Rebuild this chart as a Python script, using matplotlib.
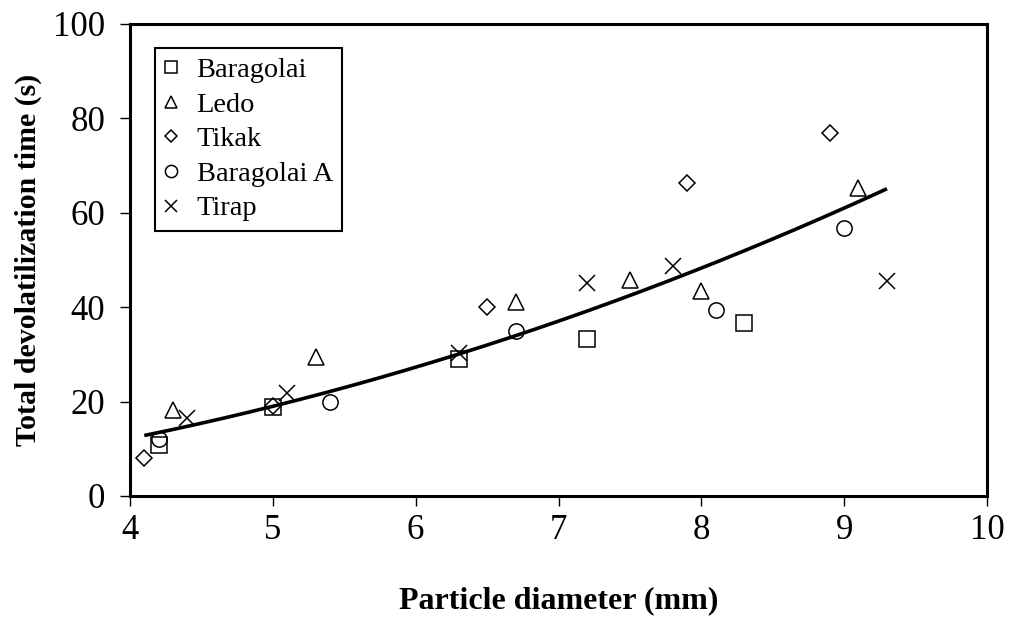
import numpy as np
import matplotlib
matplotlib.use("Agg")
import matplotlib.pyplot as plt

plt.rcParams['font.family'] = ['Liberation Serif', 'DejaVu Serif']

# Data
baragolai_x = [4.2, 5.0, 6.3, 7.2, 8.3]
baragolai_y = [10.8, 18.8, 29.0, 33.2, 36.7]
ledo_x = [4.3, 5.3, 6.7, 7.5, 8.0, 9.1]
ledo_y = [18.2, 29.4, 41.2, 45.8, 43.5, 65.2]
tikak_x = [4.1, 5.0, 6.5, 7.9, 8.9]
tikak_y = [8.0, 19.0, 40.0, 66.4, 76.9]
baragolaiA_x = [4.2, 5.4, 6.7, 8.1, 9.0]
baragolaiA_y = [12.0, 20.0, 35.0, 39.4, 56.7]
tirap_x = [4.4, 5.1, 6.3, 7.2, 7.8, 9.3]
tirap_y = [16.5, 21.8, 30.2, 45.1, 48.7, 45.6]

# Power-law trend line y = a * x^b
trend_a = 0.78
trend_b = 1.984
trend_x_range = [4.1, 9.3]

series = [
    ("Baragolai", baragolai_x, baragolai_y, 's', 11),
    ("Ledo", ledo_x, ledo_y, '^', 11),
    ("Tikak", tikak_x, tikak_y, 'D', 8),
    ("Baragolai A", baragolaiA_x, baragolaiA_y, 'o', 11),
    ("Tirap", tirap_x, tirap_y, 'x', 11),
]

fig = plt.figure(figsize=(10.12, 6.23), dpi=100)
ax = fig.add_axes([130/1012, 1-496/623, (987-130)/1012, (496-24)/623])

for name, xs, ys, m, ms in series:
    if m == 'x':
        ax.plot(xs, ys, linestyle='none', marker=m, markersize=ms,
                color='black', markeredgewidth=1.1, label=name)
    else:
        ax.plot(xs, ys, linestyle='none', marker=m, markersize=ms,
                markerfacecolor='none', markeredgecolor='black',
                markeredgewidth=1.1, label=name)

tx = np.linspace(trend_x_range[0], trend_x_range[1], 200)
ax.plot(tx, trend_a * tx ** trend_b, color='black', linewidth=2.6,
        solid_capstyle='butt')

ax.set_xlim(4, 10)
ax.set_ylim(0, 100)
ax.set_xticks([4, 5, 6, 7, 8, 9, 10])
ax.set_yticks([0, 20, 40, 60, 80, 100])
ax.tick_params(direction='out', length=7, width=1.0, labelsize=25)
ax.tick_params(axis='y', pad=11)
ax.tick_params(axis='x', pad=6)
for s in ax.spines.values():
    s.set_linewidth(2.2)

ax.set_xlabel("Particle diameter (mm)", fontsize=23, fontweight='bold', labelpad=28)
ax.set_ylabel("Total devolatilization time (s)", fontsize=21.5, fontweight='bold', labelpad=8)

leg = ax.legend(loc='upper left', bbox_to_anchor=(0.029, 0.949), borderaxespad=0,
                fontsize=20.4, markerscale=0.8, handlelength=0.5, handletextpad=0.65,
                labelspacing=0.31, borderpad=0.32, fancybox=False, framealpha=1,
                edgecolor='black')
leg.get_frame().set_linewidth(1.5)

fig.savefig("out.png", dpi=100)
